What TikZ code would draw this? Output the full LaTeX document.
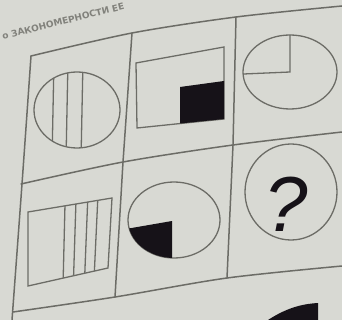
\documentclass[tikz,border=0pt]{standalone}
\usepackage{fontspec}
\usepackage{xcolor}
\usepackage{tikz}
\usetikzlibrary{calc}
\newfontfamily\cyrfont{DejaVu Sans}
\newfontfamily\qfont{Liberation Sans}
\definecolor{paper}{RGB}{216,217,211}
\definecolor{ink}{RGB}{108,108,102}
\definecolor{blot}{RGB}{22,18,24}
\tikzset{
  gridline/.style={draw=ink,line width=1.5pt,line cap=round},
  figline/.style={draw=ink,line width=1.3pt},
}
\begin{document}
\begin{tikzpicture}[x=1pt,y=-1pt]
    \useasboundingbox (0,0) rectangle (342,320);
    \fill[paper] (0,0) rectangle (342,320);
    \node (title) [rotate=14,anchor=south west,inner sep=0pt,text=ink,opacity=.8,
      font=\cyrfont\bfseries\fontsize{9}{9}\selectfont] at (3,40) {о ЗАКОНОМЕРНОСТИ ЕЕ};
    % the grid, bent by the photo
    \draw[gridline] plot[smooth] coordinates {(31,56) (132,33) (236,17) (342,6)};
    \draw[gridline] plot[smooth] coordinates {(21,184) (123,162) (233,145) (342,132)};
    \draw[gridline] plot[smooth] coordinates {(13,312) (115,297) (227,278) (342,266)};
    \draw[gridline] plot[smooth] coordinates {(31,56) (22,184) (12,320)};
    \draw[gridline] (132,33) -- (123,162) -- (115,297);
    \draw[gridline] (236,17) -- (233,145) -- (227,278);
    % first row
    \draw[figline] (77,110) ellipse [x radius=43,y radius=38];
    \begin{scope}
      \clip (77,110) ellipse [x radius=43,y radius=38];
      \foreach \x in {53,67,82}{
        \draw[figline] (\x+1,60) -- (\x-1,160);
      }
    \end{scope}
    \draw[figline] (136,63) -- (224,47) -- (224,119) -- (137,128) -- cycle;
    \fill[blot] (180,87) -- (224,81) -- (224,119) -- (180,123.5) -- cycle;
    \draw[figline] (290,72) ellipse [x radius=47,y radius=37];
    \draw[figline] (290,35) -- (290,72) -- (243.5,74);
    % second row
    \coordinate (ra) at (28,212);
    \coordinate (rb) at (112,198);
    \coordinate (rc) at (108,268);
    \coordinate (rd) at (28,286);
    \draw[figline] (ra) -- (rb) -- (rc) -- (rd) -- cycle;
    \foreach \t in {.44,.57,.71,.83}{
      \draw[figline] ($(ra)!\t!(rb)$) -- ($(rd)!\t!(rc)$);
    }
    \draw[figline] (174,220) ellipse [x radius=46,y radius=38];
    \begin{scope}
      \clip (174,220) ellipse [x radius=46,y radius=38];
      \fill[blot] (172,221) -- (120,230) -- (120,270) -- (172,270) -- cycle;
    \end{scope}
    \draw[figline] (291,192) ellipse [x radius=46,y radius=48];
    \node (qmark) [text=blot,inner sep=0pt,font=\qfont\itshape\fontsize{78}{78}\selectfont] at (286,204) {?};
    % edge of the next figure below
    \fill[blot] (268,320) .. controls (285,309) and (300,304) .. (318,303) -- (318,320) -- cycle;
  \end{tikzpicture}
\end{document}
